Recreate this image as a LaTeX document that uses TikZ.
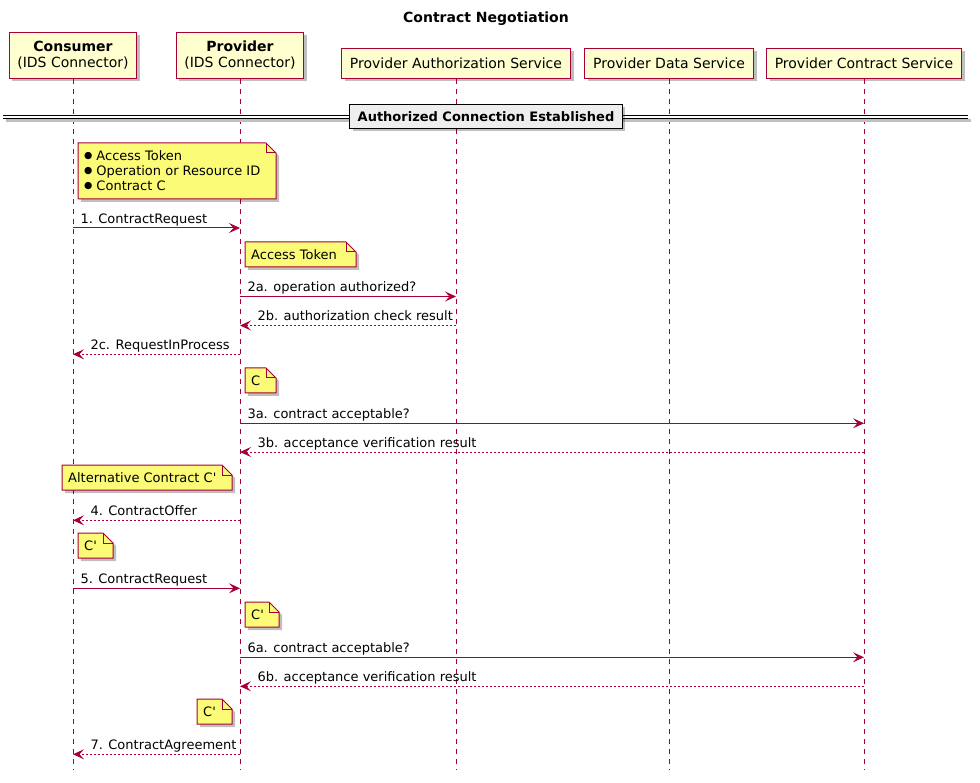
\documentclass[tikz,border=0pt]{standalone}
\usepackage{fontspec}
\setmainfont{DejaVu Sans}[Ligatures=TeXOff]
\usetikzlibrary{arrows.meta,shadows}
\definecolor{pu}{HTML}{A80036}
\definecolor{partbg}{HTML}{FEFECE}
\definecolor{notebg}{HTML}{FBFB77}
\definecolor{divbg}{HTML}{EEEEEE}
\newcommand{\notebullet}{\raisebox{1.5pt}{\fontsize{9.5}{9.5}\selectfont ●}\hspace{4pt}}
\tikzset{
  pushadow/.style={drop shadow={shadow xshift=3pt,shadow yshift=-3pt,opacity=0.25,fill=black}},
  part/.style={draw=pu, fill=partbg, line width=1.2pt, pushadow, align=center, anchor=south, inner xsep=8pt, font=\fontsize{14}{16}\selectfont},
  life/.style={draw=pu, line width=1pt, dash pattern=on 5pt off 5pt},
  msg/.style={draw=pu, line width=1pt, -{Stealth[length=11pt,width=10pt,inset=4.5pt]}},
  ret/.style={msg, dash pattern=on 2pt off 2pt},
  lbl/.style={anchor=base west, inner sep=0pt, yshift=4.5pt, font=\fontsize{13}{15}\selectfont, text=black},
  note/.style={draw=pu, fill=notebg, line width=1pt, pushadow},
  fold/.style={draw=pu, line width=1pt},
  notetext/.style={anchor=base west, inner sep=0pt, align=left, font=\fontsize{13}{15}\selectfont},
  divline/.style={draw=black, line width=1pt, double=white, double distance=2pt},
  divbox/.style={draw=black, fill=divbg, line width=1.5pt, pushadow, minimum height=24pt, inner xsep=8pt, font=\bfseries\fontsize{13}{15}\selectfont}
}
\begin{document}
\begin{tikzpicture}[x=1pt,y=-1pt]
\useasboundingbox (0,0) rectangle (980,783);
\node[font=\bfseries\fontsize{14}{16}\selectfont, anchor=base] (title) at (486,23) {Contract Negotiation};
\node[part, minimum width=127pt, minimum height=46pt] (c) at (73,79) {\textbf{Consumer}\\(IDS Connector)};
\node[part, minimum width=126pt, minimum height=46pt] (p) at (240,79) {\textbf{Provider}\\(IDS Connector)};
\node[part, minimum width=229pt, minimum height=30pt] (a) at (456,79) {Provider Authorization Service};
\node[part, minimum width=169pt, minimum height=30pt] (d) at (669,79) {Provider Data Service};
\node[part, minimum width=195pt, minimum height=30pt] (s) at (864,79) {Provider Contract Service};
\coordinate (ce) at (73,770);
\coordinate (pe) at (240,770);
\coordinate (ae) at (456,770);
\coordinate (de) at (669,770);
\coordinate (se) at (864,770);
\foreach \n in {c,p,a,d,s}
  \path[life] (\n) -- (\n e);
\coordinate (dl) at (3,116.8);
\coordinate (dr) at (968,116.8);
\path[draw=black!25, line width=3pt] ([shift={(3pt,-4pt)}]dl) -- ([shift={(3pt,-4pt)}]dr);
\path[divline] (dl) -- (dr);
\node[divbox] (div) at (486,116.3) {Authorized Connection Established\hspace{6pt}};
\foreach \n/\xa/\ya/\xb/\yb/\yt/\txt in {
  n1/78/143/276/199/47.5/{\notebullet Access Token\\\notebullet Operation or Resource ID\\\notebullet Contract C},
  n2/245/242/356/267/17.5/{Access Token},
  n3/245/368/276/393/17.5/{C},
  n4/62/465/232/490/17.5/{Alternative Contract C'},
  n5/78/533/113/558/17.5/{C'},
  n6/245/602/279/627/17.5/{C'},
  n7/197/699/232/724/17.5/{C'}}{
  \path[note] (\xa,\ya) -- (\xb-10,\ya) -- (\xb,\ya+10) -- (\xb,\yb) -- (\xa,\yb) -- cycle;
  \path[fold] (\xb-10,\ya) -- (\xb-10,\ya+10) -- (\xb,\ya+10);
  \node[notetext] (\n) at (\xa+6,\ya+\yt) {\txt};
}
\foreach \m/\y in {1/228,2a/296.5,2b/325.5,2c/354.3,3a/423.3,3b/452,4/520.3,5/588.3,6a/657.3,6b/686.3,7/754.3}
  \foreach \l/\x in {c/73,p/240,a/456,s/864}
    \coordinate (\l\m) at (\x,\y);
\path[msg] (c1) -- (p1) node[lbl, pos=0, xshift=7pt] (l1) {1. ContractRequest};
\path[msg] (p2a) -- (a2a) node[lbl, pos=0, xshift=7pt] (l2a) {2a. operation authorized?};
\path[ret] (a2b) -- (p2b) node[lbl, pos=1, xshift=17pt] (l2b) {2b. authorization check result};
\path[ret] (p2c) -- (c2c) node[lbl, pos=1, xshift=17pt] (l2c) {2c. RequestInProcess};
\path[msg] (p3a) -- (s3a) node[lbl, pos=0, xshift=7pt] (l3a) {3a. contract acceptable?};
\path[ret] (s3b) -- (p3b) node[lbl, pos=1, xshift=17pt] (l3b) {3b. acceptance verification result};
\path[ret] (p4) -- (c4) node[lbl, pos=1, xshift=17pt] (l4) {4. ContractOffer};
\path[msg] (c5) -- (p5) node[lbl, pos=0, xshift=7pt] (l5) {5. ContractRequest};
\path[msg] (p6a) -- (s6a) node[lbl, pos=0, xshift=7pt] (l6a) {6a. contract acceptable?};
\path[ret] (s6b) -- (p6b) node[lbl, pos=1, xshift=17pt] (l6b) {6b. acceptance verification result};
\path[ret] (p7) -- (c7) node[lbl, pos=1, xshift=17pt] (l7) {7. ContractAgreement};
\end{tikzpicture}
\end{document}
